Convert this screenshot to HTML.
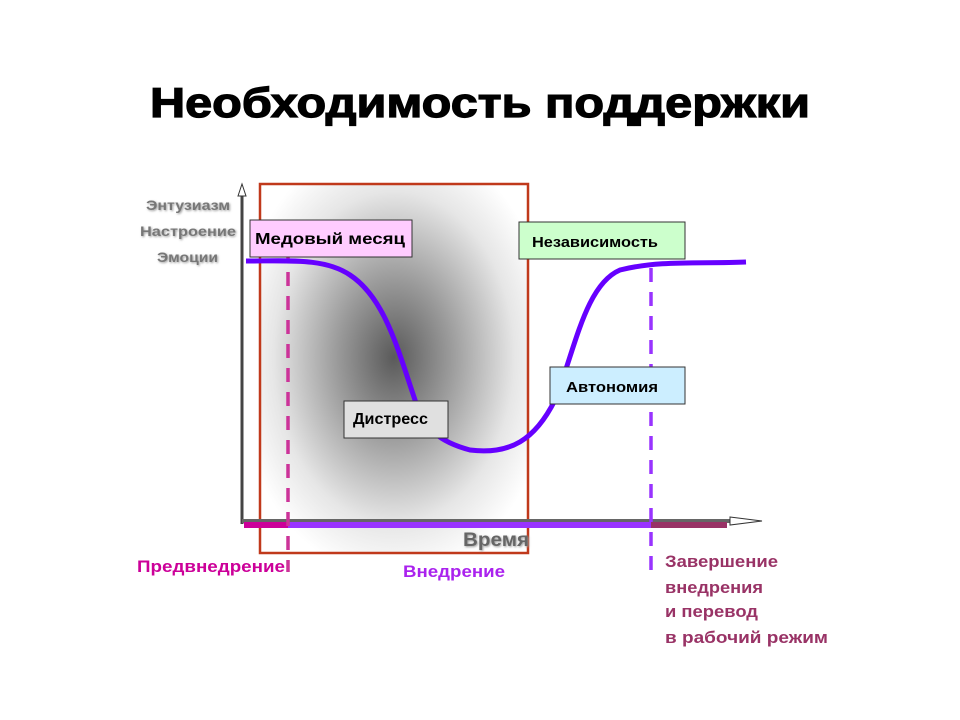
<!DOCTYPE html>
<html><head><meta charset="utf-8"><style>
body{margin:0;background:#fff;width:960px;height:720px;overflow:hidden}
svg{display:block}
text{font-family:"Liberation Sans","DejaVu Sans",sans-serif;font-weight:bold}
</style></head><body>
<svg width="960" height="720" viewBox="0 0 960 720">
<defs>
<radialGradient id="g" cx="0.5" cy="0.47" r="0.6" gradientUnits="objectBoundingBox">
<stop offset="0" stop-color="#5a5a5a"/>
<stop offset="0.35" stop-color="#9a9a9a"/>
<stop offset="0.75" stop-color="#e6e6e6"/>
<stop offset="1" stop-color="#fff"/>
</radialGradient>
<filter id="sh"><feDropShadow dx="1" dy="1" stdDeviation="1" flood-color="#999"/></filter>
</defs>
<text x="150" y="117" font-size="42" textLength="660" lengthAdjust="spacingAndGlyphs" fill="#000" stroke="#000" stroke-width="1.2">Необходимость поддержки</text>
<rect x="260" y="184" width="268" height="369" fill="url(#g)" stroke="#c0391b" stroke-width="2.5"/>
<line x1="242" y1="524" x2="242" y2="192" stroke="#444" stroke-width="3"/>
<polygon points="238,196 242,184 246,196" fill="#fff" stroke="#333"/>
<line x1="242" y1="521" x2="735" y2="521" stroke="#666" stroke-width="4"/>
<polygon points="730,517 762,521 730,525" fill="#fff" stroke="#333"/>
<line x1="244" y1="525" x2="288" y2="525" stroke="#cc0099" stroke-width="6"/>
<line x1="288" y1="525" x2="651" y2="525" stroke="#9933ff" stroke-width="6"/>
<line x1="651" y1="525" x2="727" y2="525" stroke="#993366" stroke-width="6"/>
<line x1="288" y1="248" x2="288" y2="572" stroke="#cc3399" stroke-width="3.5" stroke-dasharray="14,10"/>
<line x1="651" y1="244" x2="651" y2="572" stroke="#9933ff" stroke-width="3.5" stroke-dasharray="14,10"/>
<path d="M246,261 C290,261 325,258 350,275 C385,298 398,350 415,400 C425,430 440,442 470,450 C510,455 535,440 555,400 C575,350 585,285 620,270 C660,260 700,264 746,262" fill="none" stroke="#6600ff" stroke-width="5"/>
<g font-size="14" fill="#777" filter="url(#sh)">
<text x="146" y="210" textLength="84" lengthAdjust="spacingAndGlyphs">Энтузиазм</text>
<text x="140" y="236" textLength="96" lengthAdjust="spacingAndGlyphs">Настроение</text>
<text x="157" y="262" textLength="61" lengthAdjust="spacingAndGlyphs">Эмоции</text>
</g>
<rect x="250" y="220" width="162" height="37" fill="#ffccff" stroke="#333"/>
<text x="255" y="244" font-size="16" fill="#000" textLength="150" lengthAdjust="spacingAndGlyphs">Медовый месяц</text>
<rect x="519" y="222" width="166" height="37" fill="#ccffcc" stroke="#333"/>
<text x="532" y="247" font-size="15" fill="#000" textLength="126" lengthAdjust="spacingAndGlyphs">Независимость</text>
<rect x="550" y="367" width="135" height="37" fill="#cceeff" stroke="#333"/>
<text x="566" y="392" font-size="15" fill="#000" textLength="92" lengthAdjust="spacingAndGlyphs">Автономия</text>
<rect x="344" y="401" width="104" height="37" fill="#e0e0e0" stroke="#333"/>
<text x="353" y="424" font-size="16" fill="#000" textLength="75" lengthAdjust="spacingAndGlyphs">Дистресс</text>
<text x="463" y="546" font-size="19" fill="#666" filter="url(#sh)" textLength="66" lengthAdjust="spacingAndGlyphs">Время</text>
<text x="137" y="572" font-size="17" fill="#cc0099" textLength="148" lengthAdjust="spacingAndGlyphs">Предвнедрение</text>
<text x="403" y="577" font-size="17" fill="#aa22ee" textLength="102" lengthAdjust="spacingAndGlyphs">Внедрение</text>
<g font-size="17" fill="#993366">
<text x="665" y="567" textLength="113" lengthAdjust="spacingAndGlyphs">Завершение</text>
<text x="665" y="593" textLength="98" lengthAdjust="spacingAndGlyphs">внедрения</text>
<text x="665" y="617" textLength="93" lengthAdjust="spacingAndGlyphs">и перевод</text>
<text x="665" y="643" textLength="163" lengthAdjust="spacingAndGlyphs">в рабочий режим</text>
</g>
</svg>
</body></html>
